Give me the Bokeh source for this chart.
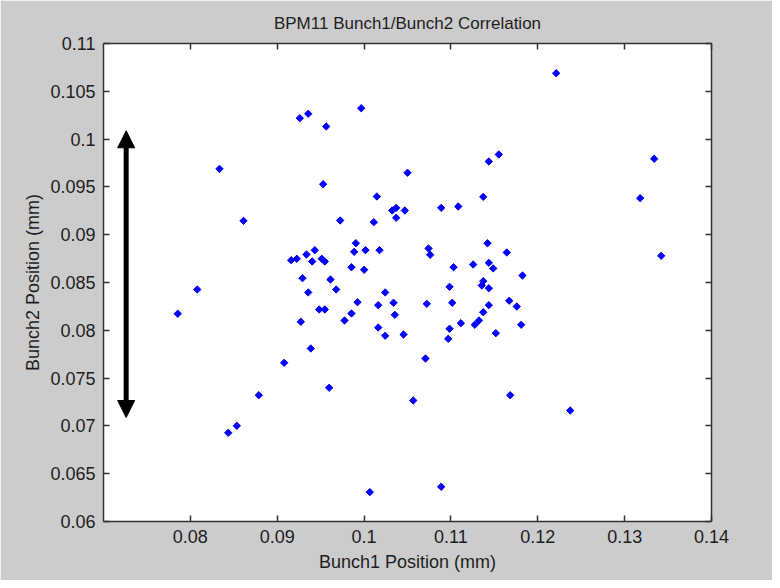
import math
from bokeh.plotting import figure
from bokeh.models import LinearAxis, FixedTicker, Arrow, NormalHead, Range1d, CustomLabelingPolicy
from bokeh.embed import file_html
from bokeh.resources import INLINE

# ---- data ----
bunch1 = [0.08336, 0.08612, 0.09161, 0.08079, 0.07855, 0.09080, 0.08788, 0.08535, 0.08436,
          0.10566, 0.10066, 0.10888, 0.11682, 0.12373, 0.09260, 0.09357, 0.09564, 0.09967,
          0.09529, 0.10500, 0.10147, 0.10324, 0.10370, 0.10469, 0.10370, 0.10112, 0.09725,
          0.10888, 0.11084, 0.11372, 0.11436, 0.11551, 0.12212, 0.13340, 0.13179, 0.13421,
          0.11421, 0.11643, 0.09905, 0.09886, 0.10016, 0.10178, 0.10742, 0.10761, 0.09433,
          0.09337, 0.09225, 0.09403, 0.09513, 0.09548, 0.09855, 0.10001, 0.11030, 0.11256,
          0.11436, 0.11487, 0.11824, 0.09291, 0.09613, 0.09679, 0.09357, 0.10243, 0.10984,
          0.11372, 0.11355, 0.11436, 0.09924, 0.10163, 0.10339, 0.10722, 0.11015, 0.11436,
          0.11671, 0.11758, 0.09483, 0.09548, 0.09855, 0.10354, 0.11372, 0.09272, 0.09775,
          0.10163, 0.10243, 0.10454, 0.10984, 0.10969, 0.11114, 0.11275, 0.11323, 0.11517,
          0.11809, 0.09387, 0.10707, 0.09598]
bunch2 = [0.09689, 0.09145, 0.08733, 0.08427, 0.08173, 0.07660, 0.07321, 0.07001, 0.06928,
          0.07266, 0.06307, 0.06363, 0.07321, 0.07161, 0.10219, 0.10265, 0.10132, 0.10323,
          0.09528, 0.09648, 0.09400, 0.09253, 0.09281, 0.09253, 0.09177, 0.09131, 0.09149,
          0.09281, 0.09295, 0.09396, 0.09766, 0.09839, 0.10689, 0.09794, 0.09382, 0.08779,
          0.08911, 0.08814, 0.08911, 0.08821, 0.08838, 0.08838, 0.08856, 0.08790, 0.08838,
          0.08793, 0.08748, 0.08720, 0.08748, 0.08720, 0.08660, 0.08633, 0.08660, 0.08688,
          0.08706, 0.08647, 0.08573, 0.08545, 0.08531, 0.08427, 0.08396, 0.08396, 0.08455,
          0.08514, 0.08469, 0.08440, 0.08294, 0.08263, 0.08288, 0.08277, 0.08288, 0.08263,
          0.08309, 0.08249, 0.08218, 0.08218, 0.08176, 0.08162, 0.08189, 0.08089, 0.08103,
          0.08029, 0.07943, 0.07956, 0.08016, 0.07911, 0.08074, 0.08058, 0.08103, 0.07970,
          0.08058, 0.07810, 0.07705, 0.07399]

x_ticks = [0.08, 0.09, 0.10, 0.11, 0.12, 0.13, 0.14]
x_labels = ["0.08", "0.09", "0.1", "0.11", "0.12", "0.13", "0.14"]
y_ticks = [0.06, 0.065, 0.07, 0.075, 0.08, 0.085, 0.09, 0.095, 0.10, 0.105, 0.11]
y_labels = ["0.06", "0.065", "0.07", "0.075", "0.08", "0.085", "0.09", "0.095", "0.1", "0.105", "0.11"]

arrow_x = 0.07261
arrow_y_top = 0.10087
arrow_y_bottom = 0.07088

FONT = "Liberation Sans"
TXT = "#1e1e1e"
AX = "#333333"

p = figure(width=772, height=580,
           x_range=Range1d(0.07, 0.14), y_range=Range1d(0.06, 0.11),
           output_backend="svg", toolbar_location=None,
           min_border_left=103, min_border_right=61,
           min_border_top=43, min_border_bottom=59,
           background_fill_color="white", border_fill_color="#CCCCCC",
           outline_line_color=None)

p.title.text = "BPM11 Bunch1/Bunch2 Correlation"
p.title.align = "center"
p.title.text_font = FONT
p.title.text_font_size = "17px"
p.title.text_font_style = "normal"
p.title.text_color = TXT
p.title.standoff = 22

p.xgrid.visible = False
p.ygrid.visible = False

hide_all = CustomLabelingPolicy(code="""
const all = [...indices];
for (const i of all) indices.unset(i);
""")

def style(ax, ticks, labels, show_labels):
    ax.ticker = FixedTicker(ticks=ticks)
    ax.axis_line_color = AX
    ax.axis_line_width = 1.5
    ax.major_tick_line_color = AX
    ax.major_tick_line_width = 1.5
    ax.major_tick_in = 6
    ax.major_tick_out = 0
    ax.minor_tick_line_color = None
    ax.major_label_text_font = FONT
    ax.major_label_text_color = TXT
    if show_labels:
        ax.major_label_text_font_size = "18px"
        ax.major_label_overrides = {t: l for t, l in zip(ticks, labels)}
    else:
        ax.major_label_text_font_size = "0px"
        ax.major_label_policy = hide_all
        ax.major_label_standoff = 0

xa = p.xaxis[0]
style(xa, x_ticks, x_labels, True)
xa.major_label_standoff = 8
xa.axis_label = "Bunch1 Position (mm)"
xa.axis_label_text_font = FONT
xa.axis_label_text_font_size = "18px"
xa.axis_label_text_font_style = "normal"
xa.axis_label_text_color = TXT
xa.axis_label_standoff = 6

ya = p.yaxis[0]
style(ya, y_ticks, y_labels, True)
ya.major_label_standoff = 8
ya.axis_label = "Bunch2 Position (mm)"
ya.axis_label_text_font = FONT
ya.axis_label_text_font_size = "18px"
ya.axis_label_text_font_style = "normal"
ya.axis_label_text_color = TXT
ya.axis_label_standoff = 4

top = LinearAxis()
style(top, x_ticks, x_labels, False)
p.add_layout(top, "above")
right = LinearAxis()
style(right, y_ticks, y_labels, False)
p.add_layout(right, "right")

p.scatter(bunch1, bunch2, marker="square", angle=math.pi / 4, size=5.2,
          fill_color="#0000FF", line_color="#0000FF", line_width=1)

p.add_layout(Arrow(x_start=arrow_x, y_start=arrow_y_bottom,
                   x_end=arrow_x, y_end=arrow_y_top,
                   line_color="black", line_width=5,
                   start=NormalHead(size=17, fill_color="black", line_color="black"),
                   end=NormalHead(size=17, fill_color="black", line_color="black")))

open("out.html", "w").write(file_html(p, INLINE))
